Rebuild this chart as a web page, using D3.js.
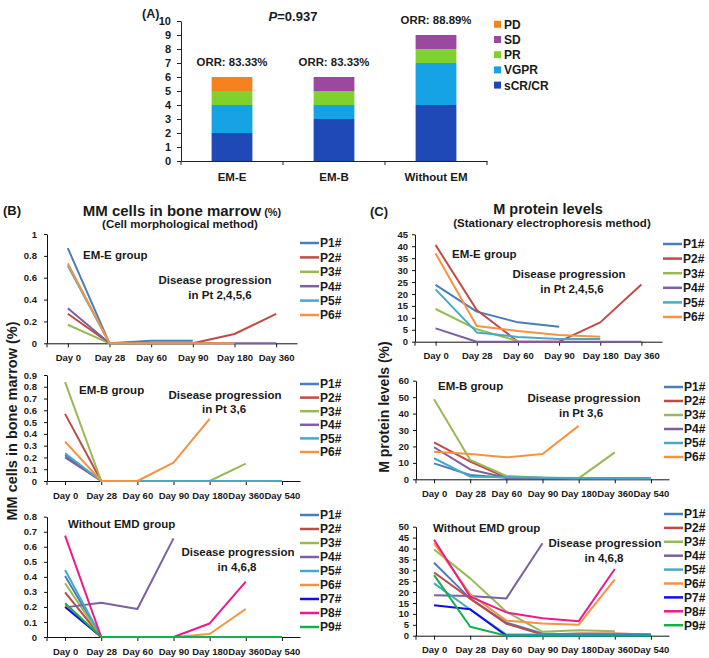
<!DOCTYPE html>
<html><head><meta charset="utf-8">
<script src="https://cdn.jsdelivr.net/npm/d3@7"></script>
<style>
body{margin:0;background:#fff}
svg{display:block}
text{font-family:"Liberation Sans",Arial,Helvetica,sans-serif;fill:#1a1a1a}
</style>
</head><body>
<svg id="chart" width="709" height="658"></svg>
<script>
// ---------- Panel A data ----------
const barCategories = ["EM-E", "EM-B", "Without EM"];
const responseKeys = ["sCR/CR", "VGPR", "PR", "SD", "PD"];
const crCounts   = [2, 3, 4];
const vgprCounts = [2, 1, 3];
const prCounts   = [1, 1, 1];
const sdCounts   = [0, 1, 1];
const pdCounts   = [1, 0, 0];
const orrLabels  = ["ORR: 83.33%", "ORR: 83.33%", "ORR: 88.89%"];
const barTicks   = [0, 1, 2, 3, 4, 5, 6, 7, 8, 9, 10];
const responseColors = ["#1f49b6", "#16a3e6", "#80d12e", "#9c489f", "#f5821f"];

// ---------- Line panel data ----------
const days6 = ["Day 0", "Day 28", "Day 60", "Day 90", "Day 180", "Day 360"];
const days7 = ["Day 0", "Day 28", "Day 60", "Day 90", "Day 180", "Day 360", "Day 540"];
const patients6 = ["P1#", "P2#", "P3#", "P4#", "P5#", "P6#"];
const patients9 = ["P1#", "P2#", "P3#", "P4#", "P5#", "P6#", "P7#", "P8#", "P9#"];
const patientColors = ["#4a7ebb", "#be4b48", "#98b954", "#7d60a0", "#46aac5", "#f69240", "#1010e0", "#ec1a8c", "#14b04c"];

// MM cells in bone marrow (%)
const bmEME = [
  [0.87, 0, 0.024, 0.024, null, null],
  [0.27, 0, 0, 0, 0.085, 0.27],
  [0.17, 0, 0, 0, null, null],
  [0.32, 0, 0, 0, 0, 0],
  [0.71, 0, 0, 0, null, null],
  [0.73, 0, 0, 0, 0, null]
];
const bmEMB = [
  [0.22, 0, 0, 0, 0, 0, 0],
  [0.57, 0, 0, 0, 0, 0, 0],
  [0.84, 0, 0, 0, 0, 0.147, null],
  [0.20, 0, 0, 0, 0, 0, 0],
  [0.235, 0, 0, 0, 0, 0, 0],
  [0.334, 0, 0, 0.156, 0.527, null, null]
];
const bmNoEM = [
  [0.405, 0, 0, 0, 0, 0, 0],
  [0.297, 0, 0, 0, 0, 0, 0],
  [0.357, 0, 0, 0, 0, 0, 0],
  [0.197, 0.228, 0.186, 0.656, null, null, null],
  [0.445, 0, 0, 0, 0, 0, 0],
  [0.21, 0, 0, 0, 0.02, 0.186, null],
  [0.20, 0, 0, 0, 0, 0, 0],
  [0.674, 0, 0, 0, 0.09, 0.368, null],
  [0.224, 0, 0, 0, 0, 0, 0]
];

// M protein levels (%)
const mpEME = [
  [23.8, 12.6, 8.1, 6.3, null, null],
  [40.5, 13.3, 0, 0, 8.1, 24],
  [13.7, 5.2, 0.3, null, null, null],
  [5.6, 0, 0, 0, 0, 0],
  [21.9, 3.9, 2.0, 1.1, 1.1, null],
  [37, 6.6, 4.5, 2.8, 2.1, null]
];
const mpEMB = [
  [9.7, 2.6, 1.0, 1.0, 0.6, 0.6, 0.5],
  [22.5, 10.8, 1.0, 0.8, 0.6, 0.6, 0.5],
  [48.7, 11.8, 2.0, 1.0, 0.6, 16.4, null],
  [19.5, 6.0, 1.0, 0.8, 0.6, 0.6, 0.5],
  [12.8, 1.6, 1.2, 1.0, 0.8, 0.6, 0.6],
  [16.8, 15.4, 13.4, 15.4, 32.5, null, null]
];
const mpNoEM = [
  [33.5, 17, 6, 1, 0.5, 0.5, 0.5],
  [29, 17, 5.5, 0.5, 1, 1, 0.5],
  [39.5, 26.3, 11, 1.8, 2.5, 2, null],
  [18.5, 18.2, 17.1, 42.4, null, null, null],
  [24, 12, 0.5, 0.5, 0.5, 0.5, 0.5],
  [42.5, 19, 6.9, 5.6, 5, 25.8, null],
  [14, 12.1, 0, 0, 0, 0, 0],
  [44, 17.9, 10.7, 8, 6.6, 30.6, null],
  [27.8, 4.1, 0, 0, 0, 0, 0]
];

const svg = d3.select("#chart");
const FONT = '"Liberation Sans",Arial,sans-serif';

function txt(x, y, s, size, opts = {}) {
  const t = svg.append("text").attr("x", x).attr("y", y).text(s)
    .attr("font-size", size).attr("font-weight", opts.weight || "bold")
    .attr("text-anchor", opts.anchor || "start");
  if (opts.style) t.attr("font-style", opts.style);
  return t;
}

// ================= Panel A =================
(function () {
  const x0 = 181, x1 = 487, y0 = 161, yTop = 21;
  const x = d3.scaleBand().domain(barCategories).range([x0, x1]).paddingInner(0.6).paddingOuter(0.3);
  const y = d3.scaleLinear().domain([0, 10]).range([y0, yTop]);
  const rows = barCategories.map((c, i) => ({
    cat: c, "sCR/CR": crCounts[i], "VGPR": vgprCounts[i], "PR": prCounts[i], "SD": sdCounts[i], "PD": pdCounts[i]
  }));
  const stack = d3.stack().keys(responseKeys)(rows);
  const g = svg.append("g");
  stack.forEach((layer, k) => {
    g.selectAll(null).data(layer).join("rect")
      .attr("x", d => x(d.data.cat)).attr("width", x.bandwidth())
      .attr("y", d => y(d[1])).attr("height", d => y(d[0]) - y(d[1]))
      .attr("fill", responseColors[k]);
  });
  // y axis
  const ya = svg.append("g").attr("transform", `translate(${x0},0)`)
    .call(d3.axisLeft(y).tickValues(barTicks).tickSize(4).tickPadding(6).tickSizeOuter(0));
  ya.selectAll("text").attr("font-size", 11).attr("font-weight", "bold").attr("font-family", FONT).attr("fill", "#1a1a1a");
  ya.selectAll("line,path").attr("stroke", "#222");
  // x axis: line with ticks at band boundaries
  const xa = svg.append("g").attr("transform", `translate(0,${y0})`)
    .call(d3.axisBottom(x).tickSize(0).tickPadding(12));
  xa.selectAll("text").attr("font-size", 11.5).attr("font-weight", "bold").attr("font-family", FONT).attr("fill", "#1a1a1a");
  xa.select("path").attr("stroke", "#222");
  const bounds = [x0].concat(barCategories.map(c => x(c) + x.bandwidth() / 2 + x.step() / 2));
  svg.append("g").selectAll("line").data(bounds).join("line")
    .attr("x1", d => d).attr("x2", d => d).attr("y1", y0).attr("y2", y0 + 4).attr("stroke", "#222");
  // ORR labels
  barCategories.forEach((c, i) => {
    const total = crCounts[i] + vgprCounts[i] + prCounts[i] + sdCounts[i] + pdCounts[i];
    txt(x(c) + x.bandwidth() / 2, y(total) - 11, orrLabels[i], 11.4, { anchor: "middle" });
  });
  // P value
  const p = svg.append("text").attr("x", 293).attr("y", 21).attr("text-anchor", "middle")
    .attr("font-size", 13).attr("font-weight", "bold");
  p.append("tspan").attr("font-style", "italic").text("P");
  p.append("tspan").text("=0.937");
  txt(142, 18, "(A)", 12.5);
  // legend
  const legendKeys = responseKeys.slice().reverse();
  legendKeys.forEach((k, i) => {
    const yy = 24.3 + i * 15.2;
    svg.append("rect").attr("x", 494).attr("y", yy - 3.5).attr("width", 7).attr("height", 7)
      .attr("fill", responseColors[responseKeys.indexOf(k)]);
    txt(504, yy + 4.5, k, 12);
  });
})();

// ================= Line panels =================
function linePanel(cfg) {
  const x = d3.scalePoint().domain(cfg.days).range([cfg.x0, cfg.x1]).padding(0.5);
  const y = d3.scaleLinear().domain([0, cfg.yMax]).range([cfg.y0, cfg.yTop]);
  const ticks = d3.range(0, cfg.yMax + cfg.yStep / 2, cfg.yStep);
  const ya = svg.append("g").attr("transform", `translate(${cfg.x0},0)`)
    .call(d3.axisLeft(y).tickValues(ticks).tickSize(3).tickPadding(cfg.yPad || 5).tickSizeOuter(0)
      .tickFormat(t => String(+t.toFixed(2))));
  ya.selectAll("text").attr("font-size", 9.5).attr("font-weight", "bold").attr("font-family", FONT).attr("fill", "#1a1a1a");
  ya.selectAll("line,path").attr("stroke", "#111");
  const xa = svg.append("g").attr("transform", `translate(0,${cfg.y0})`)
    .call(d3.axisBottom(x).tickSize(4).tickPadding(cfg.xPad || 7).tickSizeOuter(0));
  xa.selectAll("text").attr("font-size", 9.5).attr("font-weight", "bold").attr("font-family", FONT).attr("fill", "#1a1a1a");
  xa.selectAll("line,path").attr("stroke", "#111");
  svg.append("line").attr("x1", cfg.x0).attr("x2", cfg.x0).attr("y1", cfg.y0).attr("y2", cfg.y0 + 4).attr("stroke", "#111");

  const line = d3.line().defined(d => d.v !== null).x(d => x(d.day)).y(d => y(d.v));
  cfg.series.forEach((vals, i) => {
    const pts = vals.map((v, j) => ({ day: cfg.days[j], v: v }));
    svg.append("path").datum(pts).attr("d", line).attr("fill", "none")
      .attr("stroke", patientColors[i]).attr("stroke-width", 2).attr("stroke-linejoin", "round");
  });
  // legend
  cfg.names.forEach((n, i) => {
    const yy = cfg.legY + i * cfg.legDy;
    svg.append("line").attr("x1", cfg.legX).attr("x2", cfg.legX + 19).attr("y1", yy).attr("y2", yy)
      .attr("stroke", patientColors[i]).attr("stroke-width", 2.5);
    txt(cfg.legX + 20, yy + 4.3, n, 12);
  });
  // annotations
  txt(cfg.grp[0], cfg.grp[1], cfg.grp[2], 11.5);
  txt(cfg.dp[0], cfg.dp[1], "Disease progression", 11.5, { anchor: "middle" });
  txt(cfg.dp2[0], cfg.dp2[1], cfg.dp2[2], 11.5, { anchor: "middle" });
}

// Panel B
linePanel({ days: days6, series: bmEME, names: patients6, x0: 47, x1: 297, y0: 343.3, yTop: 234, yMax: 1, yStep: 0.2, yPad: 7,
  legX: 300, legY: 243, legDy: 14.4,
  grp: [83, 259, "EM-E group"], dp: [215, 284], dp2: [220, 299, "in Pt 2,4,5,6"] });
linePanel({ days: days7, series: bmEMB, names: patients6, x0: 47, x1: 300, y0: 481, yTop: 375, yMax: 0.9, yStep: 0.1, yPad: 7,
  legX: 300, legY: 384, legDy: 13.6,
  grp: [79, 394, "EM-B group"], dp: [225, 399], dp2: [224, 413, "in Pt 3,6"] });
linePanel({ days: days7, series: bmNoEM, names: patients9, x0: 47, x1: 300, y0: 637, yTop: 516.7, yMax: 0.8, yStep: 0.1, yPad: 7,
  legX: 300, legY: 515, legDy: 14,
  grp: [68, 528, "Without EMD group"], dp: [238, 556], dp2: [237, 571, "in 4,6,8"] });

// Panel C
linePanel({ days: days6, series: mpEME, names: patients6, x0: 415, x1: 662, y0: 341.7, yTop: 234.3, yMax: 45, yStep: 5, yPad: 4,
  legX: 663, legY: 244, legDy: 14.6,
  grp: [452, 258, "EM-E group"], dp: [569, 278], dp2: [572, 293, "in Pt 2,4,5,6"] });
linePanel({ days: days7, series: mpEMB, names: patients6, x0: 416, x1: 669, y0: 479.3, yTop: 380.7, yMax: 60, yStep: 10, yPad: 4,
  legX: 664, legY: 387, legDy: 14,
  grp: [438, 390, "EM-B group"], dp: [584, 402], dp2: [581, 417, "in Pt 3,6"] });
linePanel({ days: days7, series: mpNoEM, names: patients9, x0: 416, x1: 669, y0: 635.7, yTop: 526.7, yMax: 50, yStep: 5, yPad: 4,
  legX: 664, legY: 514, legDy: 13.9,
  grp: [433, 532, "Without EMD group"], dp: [605, 547], dp2: [604, 562, "in 4,6,8"] });

// Titles
const tB = svg.append("text").attr("x", 182).attr("y", 216).attr("text-anchor", "middle").attr("font-weight", "bold");
tB.append("tspan").attr("font-size", 15).text("MM cells in bone marrow");
tB.append("tspan").attr("font-size", 11).text(" (%)");
txt(180, 228, "(Cell morphological method)", 11.5, { anchor: "middle" });
txt(3, 215, "(B)", 13);

txt(548, 214, "M protein levels", 14.5, { anchor: "middle" });
txt(552, 227, "(Stationary electrophoresis method)", 11.5, { anchor: "middle" });
txt(370, 216, "(C)", 13);

// Y axis labels
svg.append("text").attr("transform", "translate(17,421) rotate(-90)").attr("text-anchor", "middle")
  .attr("font-size", 14.5).attr("font-weight", "bold").text("MM cells in bone marrow (%)");
svg.append("text").attr("transform", "translate(389,407) rotate(-90)").attr("text-anchor", "middle")
  .attr("font-size", 14).attr("font-weight", "bold").text("M protein levels (%)");
</script>
</body></html>
